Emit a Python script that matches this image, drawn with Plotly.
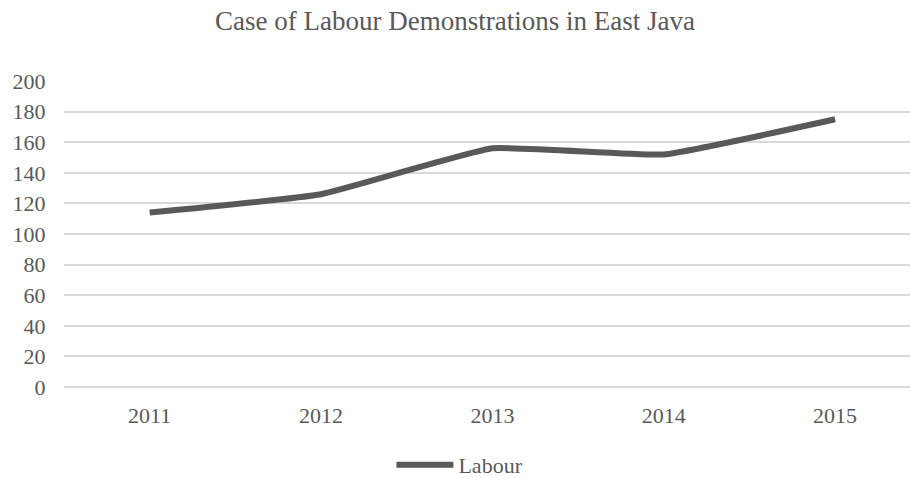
import plotly.graph_objects as go

years = ["2011", "2012", "2013", "2014", "2015"]
labour = [114, 126, 156, 152, 175]
y_ticks = [0, 20, 40, 60, 80, 100, 120, 140, 160, 180, 200]

font_family = "Liberation Serif, Times New Roman, serif"
text_color = "#595959"

fig = go.Figure()
fig.add_trace(go.Scatter(
    x=years, y=labour, name="Labour", mode="lines",
    line=dict(color="#595959", width=6, shape="spline", smoothing=0.35),
))

fig.update_layout(
    width=910, height=478,
    margin=dict(l=64, r=0, t=81, b=91, autoexpand=False),
    paper_bgcolor="white", plot_bgcolor="white",
    font=dict(family=font_family, color=text_color, size=22),
    title=dict(text="Case of Labour Demonstrations in East Java",
               x=0.5, xanchor="center", y=0.957, yanchor="middle",
               font=dict(size=27, color=text_color, family=font_family)),
    showlegend=True,
    legend=dict(orientation="h", x=0.468, xanchor="center", y=-0.255, yanchor="middle",
                font=dict(size=22, color=text_color, family=font_family),
                itemwidth=57),
    xaxis=dict(type="category", range=[-0.5, 4.437], showgrid=False, zeroline=False,
               showline=False, ticks="outside", ticklen=9, tickcolor="rgba(0,0,0,0)",
               tickfont=dict(size=22, color=text_color), automargin=False),
    yaxis=dict(range=[0, 200], tickvals=y_ticks, showgrid=True, gridcolor="#d9d9d9",
               gridwidth=1.5, zeroline=True, zerolinecolor="#d9d9d9", zerolinewidth=1.5,
               showline=False, ticks="outside", ticklen=13, tickcolor="rgba(0,0,0,0)",
               tickfont=dict(size=22, color=text_color), automargin=False),
)

fig.write_html("out.html")
